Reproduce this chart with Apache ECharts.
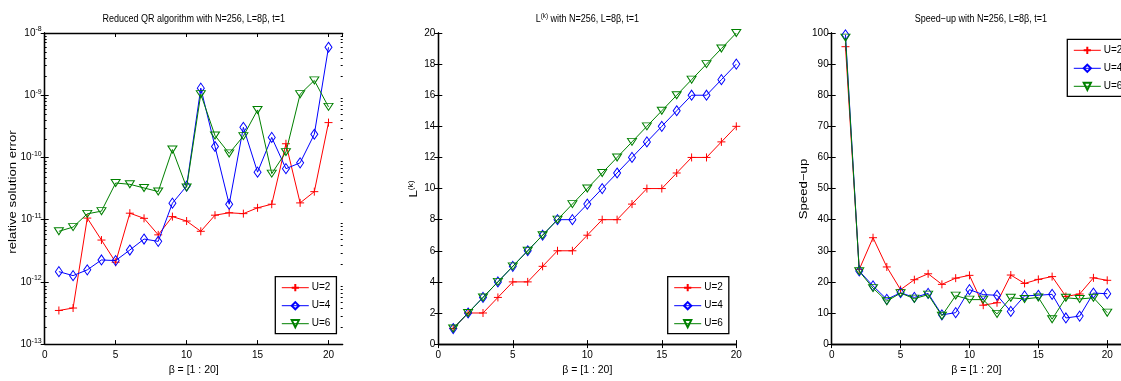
<!DOCTYPE html>
<html><head><meta charset="utf-8">
<script src="https://cdn.jsdelivr.net/npm/echarts@6/dist/echarts.min.js"></script>
<style>html,body{margin:0;padding:0;background:#fff}#c{width:1121px;height:381px}</style>
</head><body><div id="c"></div>
<script>
const beta = [1,2,3,4,5,6,7,8,9,10,11,12,13,14,15,16,17,18,19,20];
// Panel 1: relative solution error (log scale)
const errU2 = [3.47e-13,3.8e-13,1.06e-11,4.7e-12,2.07e-12,1.27e-11,1.05e-11,5.7e-12,1.12e-11,9.5e-12,6.5e-12,1.18e-11,1.29e-11,1.25e-11,1.55e-11,1.77e-11,1.66e-10,1.86e-11,2.82e-11,3.63e-10];
const errU4 = [1.46e-12,1.26e-12,1.56e-12,2.25e-12,2.2e-12,3.25e-12,4.88e-12,4.48e-12,1.84e-11,3.47e-11,1.3e-9,1.5e-10,1.77e-11,3.05e-10,5.8e-11,2.1e-10,6.6e-11,8.2e-11,2.36e-10,5.9e-9];
const errU6 = [6.5e-12,7.6e-12,1.24e-11,1.37e-11,3.88e-11,3.7e-11,3.23e-11,2.83e-11,1.34e-10,3.3e-11,1.04e-9,2.25e-10,1.16e-10,2.2e-10,5.8e-10,5.5e-11,1.22e-10,1.04e-9,1.73e-9,6.5e-10];
// Panel 2: L^(k)
const lkU2 = [1,2,2,3,4,4,5,6,6,7,8,8,9,10,10,11,12,12,13,14];
const lkU4 = [1,2,3,4,5,6,7,8,8,9,10,11,12,13,14,15,16,16,17,18];
const lkU6 = [1,2,3,4,5,6,7,8,9,10,11,12,13,14,15,16,17,18,19,20];
// Panel 3: speed-up
const spU2 = [95.6,24.0,34.2,24.8,17.5,20.7,22.6,19.2,21.2,22.1,12.5,13.3,22.2,19.5,20.8,21.7,15.3,16.1,21.3,20.5];
const spU4 = [99.4,23.5,18.7,14.4,16.5,15.0,16.3,9.4,10.1,17.5,15.9,15.7,10.5,15.5,15.7,16.0,8.4,9.0,16.4,16.2];
const spU6 = [98.5,23.4,18.0,13.8,16.4,14.6,15.9,9.1,15.6,14.3,14.3,9.7,14.9,14.5,15.0,8.0,14.9,14.5,14.9,10.1];
const seriesNames = ['U=2','U=4','U=6'];
const titles = ['Reduced QR algorithm with N=256, L=8\u03b2, t=1', '{n|L}{s|(k)}{n| with N=256, L=8\u03b2, t=1}', 'Speed\u2212up with N=256, L=8\u03b2, t=1'];
const yNames = ['relative solution error', '{n|L}{s|(k)}', 'Speed\u2212up'];
const xName = '\u03b2 = [1 : 20]';

const FONT = "'Liberation Sans',Arial,sans-serif";
const COLORS = ['#ff0000','#0000ff','#008000'];
const grids = [
  {left: 44.7, top: 33, width: 298, height: 312.7},
  {left: 438.3, top: 33, width: 298, height: 312.7},
  {left: 831.7, top: 33, width: 298.2, height: 312.7},
  {left: 44.7, top: 33, width: 298, height: 312.7}   // overlay for log minor ticks
];
const xMax = [21, 20, 21];

const xAxis = [], yAxis = [];
const lineAx = {show: true, lineStyle: {color: '#000', width: 1.3}};
const lab = {color: '#000', fontFamily: FONT, fontSize: 10};
const tick = {inside: true, length: 4, lineStyle: {color: '#000'}};
[0, 1, 2].forEach(i => {
  xAxis.push({type: 'value', gridIndex: i, min: 0, max: xMax[i], interval: 5, position: 'bottom',
    axisLine: lineAx, axisTick: tick,
    axisLabel: Object.assign({margin: 6, showMaxLabel: xMax[i] === 20}, lab),
    splitLine: {show: false},
    name: xName, nameLocation: 'middle', nameGap: 20,
    nameTextStyle: {color: '#000', fontFamily: FONT, fontSize: 10.5}});
  xAxis.push({type: 'value', gridIndex: i, min: 0, max: xMax[i], interval: 5, position: 'top',
    axisLine: lineAx, axisTick: tick,
    axisLabel: {show: false}, splitLine: {show: false}});
});
// hidden x axis for overlay grid
xAxis.push({type: 'value', gridIndex: 3, min: 0, max: 21, show: false});

const supRich = {
  n: {fontFamily: FONT, fontSize: 10, fill: '#000', color: '#000', lineHeight: 13, verticalAlign: 'middle'},
  s: {fontFamily: FONT, fontSize: 7, fill: '#000', color: '#000', lineHeight: 7, verticalAlign: 'top'}
};
const logRich = {
  b: {fontFamily: FONT, fontSize: 10, color: '#000', lineHeight: 14, verticalAlign: 'middle'},
  s: {fontFamily: FONT, fontSize: 7, color: '#000', lineHeight: 7, verticalAlign: 'top'}
};
// grid 0 log axes (index 0,1)
yAxis.push({type: 'log', logBase: 10, gridIndex: 0, min: 1e-13, max: 1e-8, position: 'left',
  axisLine: lineAx, axisTick: tick,
  axisLabel: {margin: 3, formatter: v => '{b|10}{s|' + Math.round(Math.log10(v)) + '}', rich: logRich},
  splitLine: {show: false}, minorTick: {show: false}});
yAxis.push({type: 'log', logBase: 10, gridIndex: 0, min: 1e-13, max: 1e-8, position: 'right',
  axisLine: lineAx, axisTick: tick,
  axisLabel: {show: false}, splitLine: {show: false}});
// grid 1 (index 2,3)
yAxis.push({type: 'value', gridIndex: 1, min: 0, max: 20, interval: 2, position: 'left',
  axisLine: lineAx, axisTick: tick,
  axisLabel: Object.assign({margin: 3}, lab), splitLine: {show: false}});
yAxis.push({type: 'value', gridIndex: 1, min: 0, max: 20, interval: 2, position: 'right',
  axisLine: lineAx, axisTick: tick,
  axisLabel: {show: false}, splitLine: {show: false}});
// grid 2 (index 4,5)
yAxis.push({type: 'value', gridIndex: 2, min: 0, max: 100, interval: 10, position: 'left',
  axisLine: lineAx, axisTick: tick,
  axisLabel: Object.assign({margin: 3}, lab), splitLine: {show: false}});
yAxis.push({type: 'value', gridIndex: 2, min: 0, max: 100, interval: 10, position: 'right',
  axisLine: lineAx, axisTick: tick,
  axisLabel: {show: false}, splitLine: {show: false}});
// overlay minor log ticks (index 6,7), in exponent space
const minorVals = [];
for (let d = -13; d < -8; d++) for (let k = 2; k <= 9; k++) minorVals.push(d + Math.log10(k));
['left','right'].forEach(p => {
  yAxis.push({type: 'value', gridIndex: 3, min: -13, max: -8, position: p,
    axisLine: {show: false}, axisLabel: {show: false}, splitLine: {show: false},
    axisTick: {inside: true, length: 2, customValues: minorVals, lineStyle: {color: '#000'}}});
});

const xIdx = [0, 2, 4];
const yIdx = [0, 2, 4];
const SYMS = [
  {symbol: 'path://M0,5L10,5M5,0L5,10', symbolSize: 8, symbolRotate: 0},
  {symbol: 'diamond', symbolSize: [7, 10], symbolRotate: 0},
  {symbol: 'triangle', symbolSize: [9, 7], symbolRotate: 180}
];
const panels = [[errU2, errU4, errU6], [lkU2, lkU4, lkU6], [spU2, spU4, spU6]];
const series = [];
panels.forEach((arrs, g) => {
  arrs.forEach((arr, s) => {
    series.push(Object.assign({
      type: 'line', name: seriesNames[s], xAxisIndex: xIdx[g], yAxisIndex: yIdx[g],
      data: beta.map((b, k) => [b, arr[k]]), clip: false, z: 2 + s,
      color: COLORS[s],
      lineStyle: {color: COLORS[s], width: 1},
      itemStyle: {color: s === 0 ? COLORS[s] : 'rgba(255,255,255,0)', borderColor: COLORS[s], borderWidth: 1},
      showSymbol: true, showAllSymbol: true
    }, SYMS[s]));
  });
});
const legPos = [{left: 275.3, top: 276.7}, {left: 667.7, top: 276.7}, {left: 1067.3, top: 39.3}];
const legend = legPos.map(p => ({
  left: p.left, top: p.top, orient: 'vertical', data: seriesNames,
  backgroundColor: '#fff', borderColor: '#000', borderWidth: 1.3, borderRadius: 0,
  padding: [6, 6, 5, 6], itemGap: 8, itemWidth: 27, itemHeight: 9,
  lineStyle: {width: 1},
  textStyle: {color: '#000', fontFamily: FONT, fontSize: 10, padding: [0, 0, 0, -2]},
  selectedMode: false
}));
const titleX = [193.7, 587.3, 980.8];
const graphic = titles.map((t, i) => ({
  type: 'text', x: titleX[i], y: 19.3, scaleX: 0.9,
  style: {text: t, textAlign: 'center', textVerticalAlign: 'middle', fill: '#000',
    font: '10px ' + FONT, rich: supRich}
}));
// y axis names: rotated text, stretched along the text direction like the reference
const yNamePos = [{x: 13, y: 192}, {x: 414, y: 189}, {x: 803.5, y: 189}];
yNames.forEach((t, i) => {
  graphic.push({type: 'text', x: yNamePos[i].x, y: yNamePos[i].y, rotation: Math.PI / 2, scaleX: 1.2,
    style: {text: t, textAlign: 'center', textVerticalAlign: 'middle', fill: '#000',
      font: '11px ' + FONT, rich: {
        n: {fontFamily: FONT, fontSize: 11, fill: '#000', lineHeight: 13, verticalAlign: 'middle'},
        s: {fontFamily: FONT, fontSize: 7, fill: '#000', lineHeight: 7, verticalAlign: 'top'}}}});
});
const chart = echarts.init(document.getElementById('c'), null, {renderer: 'canvas'});
chart.setOption({
  animation: false, backgroundColor: '#fff',
  grid: grids, xAxis, yAxis, series, legend, graphic
});
</script></body></html>
